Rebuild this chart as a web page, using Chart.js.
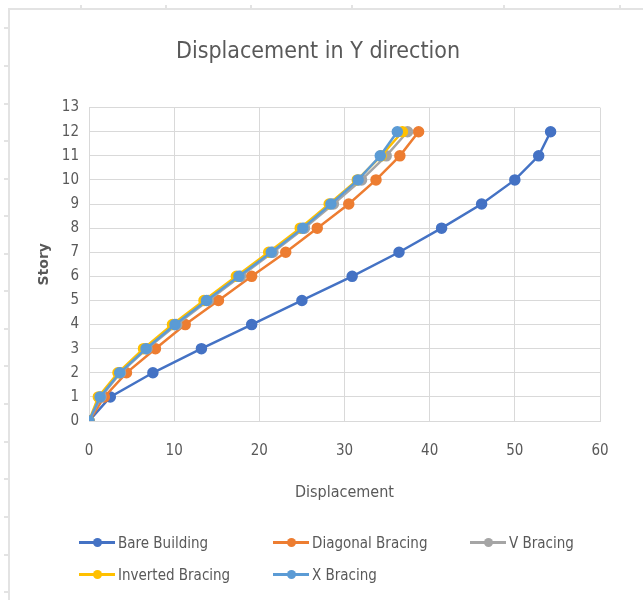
<!DOCTYPE html>
<html lang="en">
<head>
<meta charset="UTF-8">
<title>Displacement in Y direction</title>
<script src="https://cdn.jsdelivr.net/npm/chart.js"></script>
<style>
    body { margin: 0; background: #fff; }
    #wrap { position: relative; width: 643px; height: 600px; overflow: hidden; }
    #frameLeft { position: absolute; left: 8px; top: 9px; width: 2px; height: 600px; background: #e3e3e3; }
    #frameTop { position: absolute; left: 8px; top: 8px; width: 640px; height: 2px; background: #e3e3e3; }
    .tickL { position: absolute; left: 4px; width: 5px; height: 2px; background: #e3e3e3; }
    .tickT { position: absolute; top: 5px; width: 2px; height: 4px; background: #e3e3e3; }
    #legend { position: absolute; left: 0; top: 0; width: 643px; height: 600px; pointer-events: none;
              font-family: "Liberation Sans Narrow", "DejaVu Sans Condensed", sans-serif; font-size: 15px; color: #595959; }
    .item { position: absolute; height: 20px; line-height: 20px; white-space: nowrap; }
    .mark { position: absolute; left: 0; top: 8px; width: 36px; height: 3px; }
    .mark::after { content: ""; position: absolute; left: 14px; top: -3px; width: 9px; height: 9px; border-radius: 50%; background: inherit; }
    .label { position: absolute; left: 39px; top: 0; }
</style>
</head>
<body>
<div id="wrap">
    <canvas id="grafico" width="643" height="600"></canvas>
    <div id="frameLeft"></div>
    <div id="frameTop"></div>
    <div id="legend"></div>
</div>
<script>
// pisos (eje Y) y desplazamientos (eje X)
const stories = [0, 1, 2, 3, 4, 5, 6, 7, 8, 9, 10, 11, 12];
const bareBuilding = [0, 2.5, 7.5, 13.2, 19.1, 25.0, 30.9, 36.4, 41.4, 46.1, 50.0, 52.8, 54.2];
const diagonalBracing = [0, 1.8, 4.4, 7.8, 11.3, 15.2, 19.1, 23.1, 26.8, 30.5, 33.7, 36.5, 38.7];
const vBracing = [0, 1.4, 3.7, 6.8, 10.3, 14.0, 17.8, 21.6, 25.3, 28.7, 32.0, 34.9, 37.4];
const invertedBracing = [0, 1.1, 3.4, 6.4, 9.8, 13.5, 17.3, 21.1, 24.8, 28.2, 31.5, 34.3, 36.8];
const xBracing = [0, 1.3, 3.6, 6.7, 10.1, 13.8, 17.6, 21.4, 25.1, 28.4, 31.6, 34.2, 36.2];

const seriesNames = ["Bare Building", "Diagonal Bracing", "V Bracing", "Inverted Bracing", "X Bracing"];
const seriesValues = [bareBuilding, diagonalBracing, vBracing, invertedBracing, xBracing];
const colores = ["#4472C4", "#ED7D31", "#A5A5A5", "#FFC000", "#5B9BD5"];

const xTicks = [0, 10, 20, 30, 40, 50, 60];
const yTicks = [0, 1, 2, 3, 4, 5, 6, 7, 8, 9, 10, 11, 12, 13];

const fuente = "'Liberation Sans Narrow', 'DejaVu Sans Condensed', sans-serif";

// marcas del marco (hoja de cálculo)
const wrap = document.getElementById("wrap");
[27, 65, 103, 140, 178, 215, 253, 290, 328, 365, 403, 441, 478, 516, 554, 591].forEach(y => {
    const t = document.createElement("div");
    t.className = "tickL";
    t.style.top = y + "px";
    wrap.appendChild(t);
});
[80, 165, 250, 351, 503, 619].forEach(x => {
    const t = document.createElement("div");
    t.className = "tickT";
    t.style.left = x + "px";
    wrap.appendChild(t);
});

// la última serie se dibuja encima, como en Excel
const datasets = seriesNames.map((name, i) => ({
    label: name,
    data: stories.map((s, k) => ({ x: seriesValues[i][k], y: s })),
    borderColor: colores[i],
    backgroundColor: colores[i],
    borderWidth: 2.5,
    pointRadius: 4.5,
    pointHoverRadius: 4.5,
    showLine: true,
    fill: false,
    order: seriesNames.length - i
}));

const chart = new Chart(document.getElementById("grafico").getContext("2d"), {
    type: "scatter",
    data: { datasets: datasets },
    options: {
        responsive: false,
        animation: false,
        layout: { padding: { top: 38, left: 36, right: 43, bottom: 98 } },
        plugins: {
            legend: { display: false },
            tooltip: { enabled: false },
            title: {
                display: true,
                text: "Displacement in Y direction",
                color: "#595959",
                font: { family: fuente, size: 23, weight: "normal" },
                padding: { top: 0, bottom: 42 }
            }
        },
        scales: {
            x: {
                type: "linear",
                min: xTicks[0],
                max: xTicks[xTicks.length - 1],
                afterBuildTicks: axis => { axis.ticks = xTicks.map(v => ({ value: v })); },
                afterFit: axis => { axis.height = 81; },
                grid: { color: "#D9D9D9", lineWidth: 1, drawTicks: false },
                border: { color: "#D9D9D9" },
                ticks: { color: "#595959", padding: 21, font: { family: fuente, size: 15 } },
                title: {
                    display: true,
                    text: "Displacement",
                    color: "#595959",
                    font: { family: fuente, size: 16 },
                    padding: { top: 0, bottom: 0 }
                }
            },
            y: {
                type: "linear",
                min: yTicks[0],
                max: yTicks[yTicks.length - 1],
                afterBuildTicks: axis => { axis.ticks = yTicks.map(v => ({ value: v })); },
                afterFit: axis => { axis.width = 53; },
                grid: { color: "#D9D9D9", lineWidth: 1, drawTicks: false },
                border: { color: "#D9D9D9" },
                ticks: { color: "#595959", padding: 10, font: { family: fuente, size: 15 } },
                title: {
                    display: true,
                    text: "Story",
                    color: "#595959",
                    font: { family: "'DejaVu Sans', sans-serif", size: 14, weight: "bold" },
                    padding: { top: 0, bottom: 0 }
                }
            }
        }
    }
});

// leyenda en dos filas, como en la hoja original
const posiciones = [[79, 533], [273, 533], [470, 533], [79, 565], [273, 565]];
const leyenda = document.getElementById("legend");
seriesNames.forEach((name, i) => {
    const item = document.createElement("div");
    item.className = "item";
    item.style.left = posiciones[i][0] + "px";
    item.style.top = posiciones[i][1] + "px";
    item.innerHTML = `<span class="mark" style="background:${colores[i]}"></span><span class="label">${name}</span>`;
    leyenda.appendChild(item);
});
</script>
</body>
</html>
